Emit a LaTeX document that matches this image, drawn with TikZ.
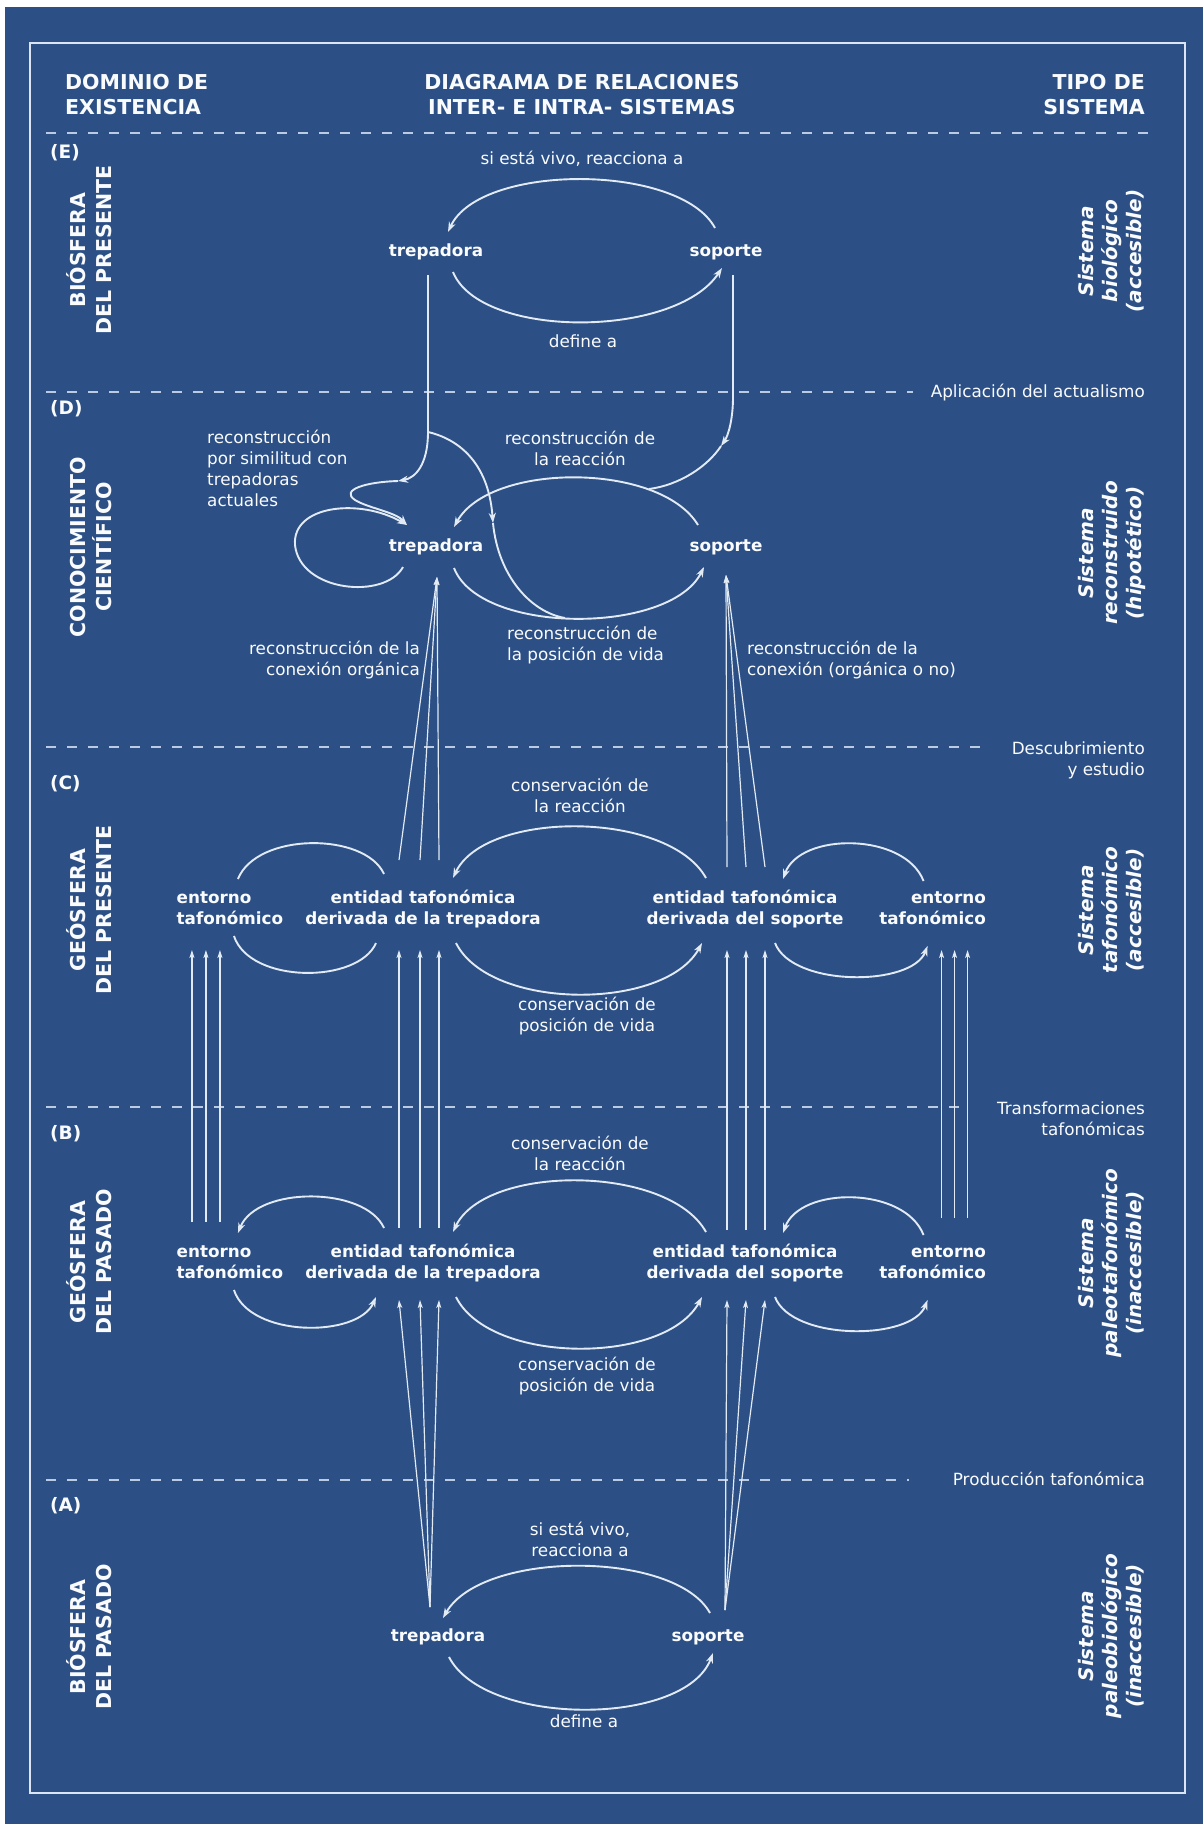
\documentclass[tikz,border=0pt]{standalone}
\usepackage{fontspec}
\setmainfont{DejaVu Sans}
\usetikzlibrary{arrows.meta}
\definecolor{bg}{RGB}{44,80,134}
\definecolor{ink}{RGB}{250,251,253}
\definecolor{wire}{RGB}{226,234,244}
\definecolor{dashc}{RGB}{186,203,226}
\definecolor{edge}{RGB}{220,230,243}

% multi-line nodes are anchored at the baseline of their last line
\tikzset{
  hdr/.style={font=\fontsize{20.5}{25}\selectfont\bfseries, text=ink, inner sep=0pt},
  seclet/.style={font=\fontsize{18.5}{22}\selectfont\bfseries, text=ink, inner sep=0pt, anchor=base west},
  dom/.style={font=\fontsize{20.5}{26}\selectfont\bfseries, text=ink, inner sep=0pt, rotate=90, align=center, anchor=base},
  sys/.style={font=\fontsize{20}{24}\selectfont\bfseries\itshape, text=ink, inner sep=0pt, rotate=90, align=center, anchor=base},
  lbl/.style={font=\fontsize{16.8}{20.7}\selectfont, text=ink, inner sep=0pt},
  ent/.style={font=\fontsize{16.8}{20.7}\selectfont\bfseries, text=ink, inner sep=0pt, anchor=base},
  cutline/.style={draw=dashc, line width=1.8pt, dash pattern=on 10pt off 11pt},
  xwire/.style={draw=wire, line width=1.9pt},
  xrel/.style={xwire, -{Stealth[length=10pt,width=7pt,inset=3pt]}},
  xfan/.style={draw=wire, line width=1.2pt, -{Stealth[length=8pt,width=5pt,inset=2pt]}},
}

\begin{document}
\begin{tikzpicture}[x=1pt,y=-1pt]
\useasboundingbox (0,0) rectangle (1203,1824);
\fill[white] (0,0) rectangle (1203,1824);
\fill[bg] (5,7) rectangle (1203,1824);
\draw[edge, line width=2pt] (30,43) rectangle (1185,1793);

% column headers
\node[hdr, align=left, anchor=base west] (hDom) at (65,114) {DOMINIO DE\\EXISTENCIA};
\node[hdr, align=center, anchor=base] (hDia) at (582,114) {DIAGRAMA DE RELACIONES\\INTER- E INTRA- SISTEMAS};
\node[hdr, align=right, anchor=base east] (hTip) at (1145,114) {TIPO DE\\SISTEMA};

% level separators
\draw[cutline] (46,133) -- (1150,133);
\draw[cutline] (46,392) -- (913,392);
\draw[cutline] (46,747) -- (990,747);
\draw[cutline] (46,1107) -- (970,1107);
\draw[cutline] (46,1480) -- (909,1480);
\node[lbl, anchor=base east] (sAct) at (1145,397) {Aplicación del actualismo};
\node[lbl, align=right, anchor=base east] (sDes) at (1145,775) {Descubrimiento\\y estudio};
\node[lbl, align=right, anchor=base east] (sTra) at (1145,1135) {Transformaciones\\tafonómicas};
\node[lbl, anchor=base east] (sPro) at (1145,1485) {Producción tafonómica};

% level letters
\node[seclet] (tE) at (50,158) {(E)};
\node[seclet] (tD) at (50,414) {(D)};
\node[seclet] (tC) at (50,789) {(C)};
\node[seclet] (tB) at (50,1139) {(B)};
\node[seclet] (tA) at (50,1511) {(A)};

% domains of existence
\node[dom] (dE) at (111,250) {BIÓSFERA\\DEL PRESENTE};
\node[dom] (dD) at (111,547) {CONOCIMIENTO\\CIENTÍFICO};
\node[dom] (dC) at (111,910) {GEÓSFERA\\DEL PRESENTE};
\node[dom] (dB) at (111,1262) {GEÓSFERA\\DEL PASADO};
\node[dom] (dA) at (111,1637) {BIÓSFERA\\DEL PASADO};

% system types
\node[sys] (yE) at (1141,251) {Sistema\\biológico\\(accesible)};
\node[sys] (yD) at (1141,553) {Sistema\\reconstruido\\(hipotético)};
\node[sys] (yC) at (1141,910) {Sistema\\tafonómico\\(accesible)};
\node[sys] (yB) at (1141,1263) {Sistema\\paleotafonómico\\(inaccesible)};
\node[sys] (yA) at (1141,1636) {Sistema\\paleobiológico\\(inaccesible)};

% ---------- (E) biosphere of the present
\node[ent] (Etrep) at (436,256) {trepadora};
\node[ent] (Esop) at (726,256) {soporte};
\node[lbl, anchor=base] (Ereac) at (582,164) {si está vivo, reacciona a};
\node[lbl, anchor=base] (Edef) at (583,347) {define a};
\draw[xrel] ([shift={(-11,-28)}]Esop.base) .. controls +(-35,-65) and +(32,-69) .. ([shift={(12,-24)}]Etrep.base);
\draw[xrel] ([shift={(17,16)}]Etrep.base) .. controls +(27,67) and +(-47,71) .. ([shift={(-4,12)}]Esop.base);

% ---------- (D) scientific knowledge
\node[ent] (Dtrep) at (436,551) {trepadora};
\node[ent] (Dsop) at (726,551) {soporte};
\node[lbl, align=center, anchor=base] (Dreac) at (580,465) {reconstrucción de\\la reacción};
\node[lbl, align=left, anchor=base west] (Dsim) at (207,506) {reconstrucción\\por similitud con\\trepadoras\\actuales};
\node[lbl, align=left, anchor=base west] (Dpos) at (507,660) {reconstrucción de\\la posición de vida};
\node[lbl, align=right, anchor=base east] (Dcon1) at (420,675) {reconstrucción de la\\conexión orgánica};
\node[lbl, align=left, anchor=base west] (Dcon2) at (747,675) {reconstrucción de la\\conexión (orgánica o no)};

\coordinate (jT) at (428,432);
\coordinate (mT) at (398,481);
\coordinate (mL) at (493,523);
\coordinate (qL) at (565,618);
\coordinate (mS) at (721,446);
\coordinate (qS) at (649,489);

\draw[xrel] ([shift={(-8,19)}]Etrep.base) -- (jT) .. controls (428,465) and (415,478) .. (mT);
\draw[xrel] (mT) .. controls (365,482) and (340,490) .. (355,500) .. controls (368,508) and (395,512) .. ([shift={(-29,-26)}]Dtrep.base);
\draw[xrel] (jT) .. controls (450,437) and (488,455) .. (mL);
\draw[xwire] (mL) .. controls (498,575) and (530,612) .. (qL);
\draw[xrel] ([shift={(7,19)}]Esop.base) -- (733,397) .. controls (733,420) and (728,436) .. (mS);
\draw[xwire] (mS) .. controls (708,466) and (680,485) .. (qS);

\draw[xrel] ([shift={(-28,-26)}]Dsop.base) .. controls +(-38,-63) and +(36,-65) .. ([shift={(18,-24)}]Dtrep.base);
\draw[xrel] ([shift={(18,17)}]Dtrep.base) .. controls +(26,67) and +(-34,68) .. ([shift={(-22,16)}]Dsop.base);
\draw[xrel] ([shift={(-33,16)}]Dtrep.base) .. controls (385,600) and (300,592) .. (295,545) .. controls (292,505) and (360,498) .. ([shift={(-29,-26)}]Dtrep.base);

% ---------- (C) geosphere of the present
\node[ent, align=left, anchor=base west] (Cent1) at (176.5,924) {entorno\\tafonómico};
\node[ent, align=center] (Ctrep) at (423,924) {entidad tafonómica\\derivada de la trepadora};
\node[ent, align=center] (Csop) at (745,924) {entidad tafonómica\\derivada del soporte};
\node[ent, align=right, anchor=base east] (Cent2) at (986,924) {entorno\\tafonómico};
\node[lbl, align=center, anchor=base] (Creac) at (580,812) {conservación de\\la reacción};
\node[lbl, align=center, anchor=base] (Cpos) at (587,1031) {conservación de\\posición de vida};

\draw[xrel] ([shift={(-39,-46)}]Csop.base) .. controls +(-38,-68) and +(32,-68) .. ([shift={(30,-46)}]Ctrep.base);
\draw[xwire] ([shift={(-39,-50)}]Ctrep.base) .. controls +(-19,-42) and +(19,-47) .. ([shift={(8,-45)}]Cent1.base);
\draw[xwire] ([shift={(4,12)}]Cent1.base) .. controls +(16,48) and +(-18,41) .. ([shift={(-47,19)}]Ctrep.base);
\draw[xrel] ([shift={(33,19)}]Ctrep.base) .. controls +(34,68) and +(-37,68) .. ([shift={(-43,19)}]Csop.base);
\draw[xrel] ([shift={(-9,-43)}]Cent2.base) .. controls +(-19,-49) and +(17,-47) .. ([shift={(38,-45)}]Csop.base);
\draw[xrel] ([shift={(30,19)}]Csop.base) .. controls +(17,44) and +(-16,41) .. ([shift={(-5,22)}]Cent2.base);

\foreach \dx in {-24,-3,16}
  \draw[xfan] ([shift={(\dx,-64)}]Ctrep.base) -- ([shift={(1,26)}]Dtrep.base);
\foreach \dx in {-18,1,20}
  \draw[xfan] ([shift={(\dx,-57)}]Csop.base) -- ([shift={(0,24)}]Dsop.base);

% ---------- (B) geosphere of the past
\node[ent, align=left, anchor=base west] (Bent1) at (176.5,1278) {entorno\\tafonómico};
\node[ent, align=center] (Btrep) at (423,1278) {entidad tafonómica\\derivada de la trepadora};
\node[ent, align=center] (Bsop) at (745,1278) {entidad tafonómica\\derivada del soporte};
\node[ent, align=right, anchor=base east] (Bent2) at (986,1278) {entorno\\tafonómico};
\node[lbl, align=center, anchor=base] (Breac) at (580,1170) {conservación de\\la reacción};
\node[lbl, align=center, anchor=base] (Bpos) at (587,1391) {conservación de\\posición de vida};

\draw[xrel] ([shift={(-39,-46)}]Bsop.base) .. controls +(-38,-68) and +(32,-68) .. ([shift={(30,-46)}]Btrep.base);
\draw[xrel] ([shift={(-39,-50)}]Btrep.base) .. controls +(-19,-42) and +(19,-47) .. ([shift={(8,-45)}]Bent1.base);
\draw[xrel] ([shift={(4,12)}]Bent1.base) .. controls +(16,48) and +(-18,41) .. ([shift={(-47,19)}]Btrep.base);
\draw[xrel] ([shift={(33,19)}]Btrep.base) .. controls +(34,68) and +(-37,68) .. ([shift={(-43,19)}]Bsop.base);
\draw[xrel] ([shift={(-9,-43)}]Bent2.base) .. controls +(-19,-49) and +(17,-47) .. ([shift={(38,-45)}]Bsop.base);
\draw[xrel] ([shift={(30,19)}]Bsop.base) .. controls +(17,44) and +(-16,41) .. ([shift={(-5,22)}]Bent2.base);

\foreach \dx in {-38,-24,-10}
  \draw[xfan] ([shift={(\dx,-56)}]Bent1.base) -- ([shift={(\dx,26)}]Cent1.base);
\foreach \dx in {-24,-3,16}
  \draw[xfan] ([shift={(\dx,-50)}]Btrep.base) -- ([shift={(\dx,26)}]Ctrep.base);
\foreach \dx in {-18,1,20}
  \draw[xfan] ([shift={(\dx,-48)}]Bsop.base) -- ([shift={(\dx,26)}]Csop.base);
\foreach \dx in {9,22,35}
  \draw[xfan] ([shift={(\dx,-60)}]Bent2.base) -- ([shift={(\dx,26)}]Cent2.base);

% ---------- (A) biosphere of the past
\node[lbl, align=center, anchor=base] (Areac) at (580,1556) {si está vivo,\\reacciona a};
\node[ent] (Atrep) at (438,1641) {trepadora};
\node[ent] (Asop) at (708,1641) {soporte};
\node[lbl, anchor=base] (Adef) at (584,1727) {define a};
\draw[xrel] ([shift={(2,-28)}]Asop.base) .. controls +(-35,-63) and +(39,-68) .. ([shift={(5,-23)}]Atrep.base);
\draw[xrel] ([shift={(11,16)}]Atrep.base) .. controls +(36,70) and +(-28,74) .. ([shift={(5,12)}]Asop.base);

\foreach \dx in {-24,-3,16}
  \draw[xfan] ([shift={(-8,-34)}]Atrep.base) -- ([shift={(\dx,22)}]Btrep.base);
\foreach \dx in {-18,1,20}
  \draw[xfan] ([shift={(17,-31)}]Asop.base) -- ([shift={(\dx,22)}]Bsop.base);
\end{tikzpicture}
\end{document}
